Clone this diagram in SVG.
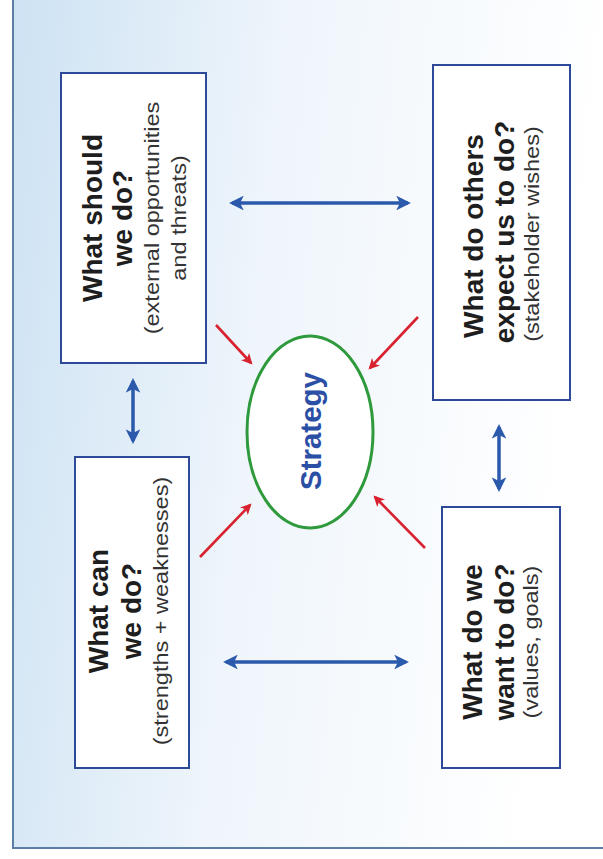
<svg xmlns="http://www.w3.org/2000/svg" width="603" height="859" viewBox="0 0 603 859">
<defs>
<linearGradient id="bg" x1="0" y1="0" x2="1" y2="0.15">
<stop offset="0" stop-color="#cde2f3"/>
<stop offset="0.45" stop-color="#eef5fb"/>
<stop offset="1" stop-color="#ffffff"/>
</linearGradient>
<marker id="bh" viewBox="0 0 10 10" refX="8" refY="5" markerWidth="4.2" markerHeight="4.2" orient="auto-start-reverse" markerUnits="strokeWidth">
<path d="M0,0 L10,5 L0,10 L2.5,5 Z" fill="#2b59ab"/>
</marker>
<marker id="rh" viewBox="0 0 10 10" refX="8" refY="5" markerWidth="4.8" markerHeight="4.2" orient="auto" markerUnits="strokeWidth">
<path d="M0,0 L10,5 L0,10 L2.5,5 Z" fill="#d8222f"/>
</marker>
<style>
.box{fill:#ffffff;stroke:#2c4a98;stroke-width:2}
.t{font-family:"Liberation Sans",Arial,sans-serif;font-weight:bold;font-size:28px;fill:#1e1e1e;text-anchor:middle}
.s{font-family:"Liberation Sans",Arial,sans-serif;font-size:21px;fill:#333333;text-anchor:middle}
.ba{stroke:#2b59ab;stroke-width:3.5;fill:none;marker-start:url(#bh);marker-end:url(#bh)}
.ra{stroke:#d8222f;stroke-width:2.6;fill:none;marker-end:url(#rh)}
</style>
</defs>
<rect x="0" y="0" width="603" height="859" fill="#ffffff"/>
<rect x="13" y="0" width="590" height="848" fill="url(#bg)"/>
<path d="M13,0 L13,848 L603,848" fill="none" stroke="#5c7fa6" stroke-width="2"/>

<g id="connectors">
<line class="ba" x1="232" y1="203" x2="408" y2="203"/>
<line class="ba" x1="226" y1="662" x2="406" y2="662"/>
<line class="ba" x1="133" y1="381" x2="133" y2="441"/>
<line class="ba" x1="499" y1="427" x2="499" y2="489"/>
<line class="ra" x1="216" y1="325" x2="251" y2="363"/>
<line class="ra" x1="418" y1="317" x2="370" y2="368"/>
<line class="ra" x1="200" y1="557" x2="250" y2="505"/>
<line class="ra" x1="425" y1="548" x2="375" y2="497"/>
</g>

<g id="node-should">
<rect class="box" x="61" y="73" width="145" height="290"/>
<text class="t" transform="translate(102,218) rotate(-90)">What should</text>
<text class="t" transform="translate(132,218) rotate(-90)">we do?</text>
<text class="s" transform="translate(159,218) rotate(-90) scale(1.12,1)">(external opportunities</text>
<text class="s" transform="translate(186,218) rotate(-90) scale(1.12,1)">and threats)</text>
</g>

<g id="node-can">
<rect class="box" x="75" y="457" width="114" height="311"/>
<text class="t" transform="translate(108,611) rotate(-90)">What can</text>
<text class="t" transform="translate(141,611) rotate(-90)">we do?</text>
<text class="s" transform="translate(168,611) rotate(-90) scale(1.12,1)">(strengths + weaknesses)</text>
</g>

<g id="node-others">
<rect class="box" x="433" y="65" width="137" height="335"/>
<text class="t" transform="translate(483,236) rotate(-90)">What do others</text>
<text class="t" transform="translate(514,232) rotate(-90)">expect us to do?</text>
<text class="s" transform="translate(539,234) rotate(-90) scale(1.12,1)">(stakeholder wishes)</text>
</g>

<g id="node-want">
<rect class="box" x="442" y="507" width="118" height="261"/>
<text class="t" transform="translate(482,642) rotate(-90)">What do we</text>
<text class="t" transform="translate(514,642) rotate(-90)">want to do?</text>
<text class="s" transform="translate(538,642) rotate(-90) scale(1.12,1)">(values, goals)</text>
</g>

<g id="node-strategy">
<ellipse cx="310" cy="432" rx="63" ry="96" fill="#ffffff" stroke="#2e9a3c" stroke-width="3"/>
<text transform="translate(321,431) rotate(-90)" font-family="Liberation Sans,Arial,sans-serif" font-weight="bold" font-size="29.5" fill="#2c4fa6" text-anchor="middle">Strategy</text>
</g>
</svg>
